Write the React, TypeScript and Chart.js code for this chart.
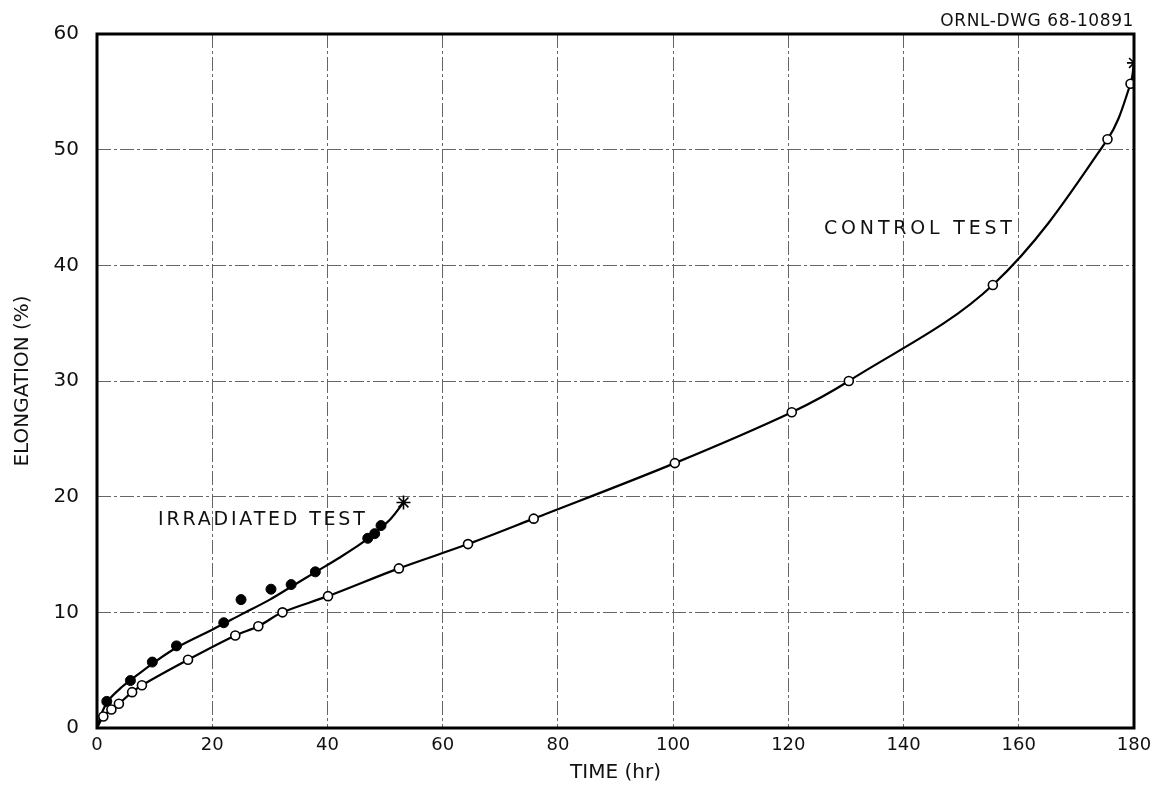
import React, { useEffect, useRef } from "react";
import { Chart, registerables } from "chart.js";

Chart.register(...registerables);

// Control test (open circles)
const controlTime = [1.1, 2.5, 3.8, 6.1, 7.8, 15.8, 24.0, 28.0, 32.2, 40.1, 52.4, 64.4, 75.8, 100.3, 120.6, 130.5, 155.5, 175.4, 179.4];
const controlElong = [1.0, 1.6, 2.1, 3.1, 3.7, 5.9, 8.0, 8.8, 10.0, 11.4, 13.8, 15.9, 18.1, 22.9, 27.3, 30.0, 38.3, 50.9, 55.7];
const controlFractureTime = [180];
const controlFractureElong = [57.5];

// Irradiated test (filled circles)
const irradTime = [1.7, 5.8, 9.6, 13.8, 22.0, 25.0, 30.2, 33.7, 37.9, 47.0, 48.2, 49.3];
const irradElong = [2.3, 4.1, 5.7, 7.1, 9.1, 11.1, 12.0, 12.4, 13.5, 16.4, 16.8, 17.5];
const irradFractureTime = [53.2];
const irradFractureElong = [19.5];

// Fitted curve through the irradiated data
const irradCurveTime = [0, 1, 2, 4, 6, 10, 14, 20, 25, 30, 34, 38, 42, 46, 49, 51, 53.2];
const irradCurveElong = [0, 1.5, 2.4, 3.4, 4.2, 5.7, 7.0, 8.5, 9.8, 11.1, 12.3, 13.5, 14.7, 16.0, 17.2, 18.1, 19.5];

// Axis ticks
const xTicks = [0, 20, 40, 60, 80, 100, 120, 140, 160, 180];
const yTicks = [0, 10, 20, 30, 40, 50, 60];

const FONT = "'DejaVu Sans', 'Noto Sans', sans-serif";

const zip = (xs: number[], ys: number[]) => xs.map((x, i) => ({ x, y: ys[i] }));

export default function App() {
  const ref = useRef<HTMLCanvasElement | null>(null);

  useEffect(() => {
    if (!ref.current) return;
    const controlCurve = [{ x: 0, y: 0 }, ...zip(controlTime, controlElong), ...zip(controlFractureTime, controlFractureElong)];

    const framePlugin = {
      id: "frame",
      afterDraw(chart: any) {
        const { ctx, chartArea: a, scales } = chart;
        ctx.save();
        ctx.strokeStyle = "#000";
        ctx.lineWidth = 3;
        ctx.strokeRect(a.left, a.top, a.right - a.left, a.bottom - a.top);
        ctx.fillStyle = "#111";
        ctx.textBaseline = "middle";
        ctx.font = `19px ${FONT}`;
        ctx.textAlign = "left";
        (ctx as any).letterSpacing = "2.8px";
        ctx.fillText("IRRADIATED TEST", scales.x.getPixelForValue(10.6), scales.y.getPixelForValue(18.0));
        (ctx as any).letterSpacing = "3.8px";
        ctx.fillText("CONTROL TEST", scales.x.getPixelForValue(126.2), scales.y.getPixelForValue(43.1));
        (ctx as any).letterSpacing = "0.6px";
        ctx.font = `17px ${FONT}`;
        ctx.textAlign = "right";
        ctx.fillText("ORNL-DWG 68-10891", a.right, a.top - 12);
        ctx.restore();
      },
    };

    const grid = {
      color: "#666",
      lineWidth: 1,
      drawTicks: false,
    };

    const chart = new Chart(ref.current, {
      type: "scatter",
      data: {
        datasets: [
          {
            label: "control curve",
            data: controlCurve,
            showLine: true,
            borderColor: "#000",
            borderWidth: 2.2,
            pointRadius: 0,
            tension: 0.35,
            order: 3,
          } as any,
          {
            label: "irradiated curve",
            data: zip(irradCurveTime, irradCurveElong),
            showLine: true,
            borderColor: "#000",
            borderWidth: 2.2,
            pointRadius: 0,
            tension: 0.35,
            order: 3,
          } as any,
          {
            label: "control",
            data: zip(controlTime, controlElong),
            pointRadius: 4.5,
            pointBackgroundColor: "#fff",
            pointBorderColor: "#000",
            pointBorderWidth: 1.6,
            order: 1,
          },
          {
            label: "irradiated",
            data: zip(irradTime, irradElong),
            pointRadius: 5,
            pointBackgroundColor: "#000",
            pointBorderColor: "#000",
            pointBorderWidth: 1,
            order: 1,
          },
          {
            label: "fracture",
            data: [...zip(controlFractureTime, controlFractureElong), ...zip(irradFractureTime, irradFractureElong)],
            pointStyle: "star",
            pointRadius: 7,
            pointBorderColor: "#000",
            pointBorderWidth: 1.6,
            order: 1,
          },
        ],
      },
      options: {
        animation: false,
        responsive: false,
        maintainAspectRatio: false,
        events: [],
        layout: { padding: { top: 34, right: 25, left: 0, bottom: 0 } },
        plugins: { legend: { display: false }, tooltip: { enabled: false } },
        scales: {
          x: {
            type: "linear",
            min: 0,
            max: 180,
            afterBuildTicks: (s: any) => {
              s.ticks = xTicks.map((v) => ({ value: v }));
            },
            afterFit: (s: any) => {
              s.height = 57;
            },
            grid: { ...grid } as any,
            border: { display: false, dash: [14, 3, 3, 3] } as any,
            ticks: { color: "#111", font: { family: FONT, size: 18 }, padding: 7, maxRotation: 0 },
            title: { display: true, text: "TIME (hr)", color: "#111", font: { family: FONT, size: 20 }, padding: { top: 0, bottom: 0 } },
          },
          y: {
            type: "linear",
            min: 0,
            max: 60,
            afterBuildTicks: (s: any) => {
              s.ticks = yTicks.map((v) => ({ value: v }));
            },
            afterFit: (s: any) => {
              s.width = 97;
            },
            grid: { ...grid } as any,
            border: { display: false, dash: [14, 3, 3, 3] } as any,
            ticks: { color: "#111", font: { family: FONT, size: 20 }, padding: 18 },
            title: { display: true, text: "ELONGATION (%)", color: "#111", font: { family: FONT, size: 20 }, padding: { top: 11, bottom: 0 } },
          },
        },
      },
      plugins: [framePlugin],
    } as any);

    return () => chart.destroy();
  }, []);

  return (
    <div style={{ position: "absolute", left: 0, top: 0, width: 1159, height: 785, background: "#fff" }}>
      <canvas ref={ref} width={1159} height={785} style={{ display: "block" }} />
    </div>
  );
}
